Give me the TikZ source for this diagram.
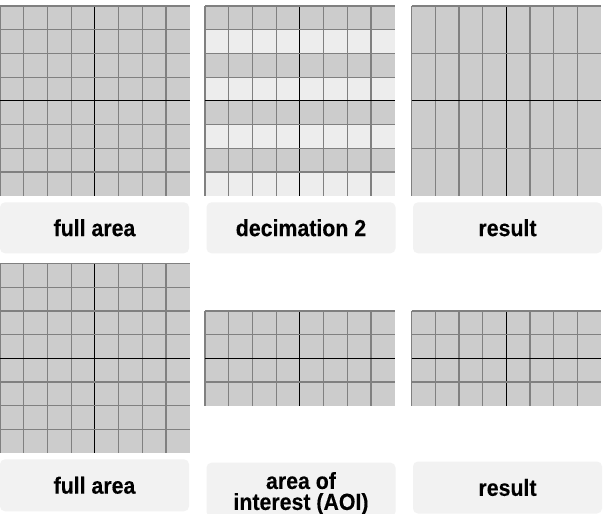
\documentclass[tikz,border=0pt]{standalone}
\usepackage{fontspec}
\newfontfamily\labfont[FakeStretch=0.915,FakeBold=0.25]{Liberation Sans Bold}
\definecolor{cellgray}{HTML}{CCCCCC}
\definecolor{celllight}{HTML}{EDEDED}
\definecolor{gridgray}{HTML}{808080}
\definecolor{boxfill}{HTML}{F2F2F2}
\tikzset{
  gridline/.style={draw=gridgray, line width=1.2pt},
  midline/.style={draw=black, line width=0.9pt},
  labelbox/.style={fill=boxfill, draw=none, rounded corners=5pt, inner sep=0pt},
  labeltext/.style={font=\labfont\fontsize{23.3}{21}\selectfont, text=black, align=center, inner sep=0pt},
}
% #1,#2 origin; #3 cols; #4 rows; #5 cell w; #6 cell h; #7 mid col; #8 mid row
\newcommand\mkgrid[8]{%
  \fill[cellgray] (#1,#2) rectangle ++(#3*#5,#4*#6);
  \foreach \i in {0,...,\numexpr#3-1\relax}{
    \ifnum\i=#7\relax
      \draw[midline] (#1+\i*#5,#2) -- ++(0,#4*#6);
    \else
      \draw[gridline] (#1+\i*#5,#2) -- ++(0,#4*#6);
    \fi
  }
  \foreach \j in {0,...,\numexpr#4-1\relax}{
    \ifnum\j=#8\relax
      \draw[midline] (#1,#2+\j*#6) -- ++(#3*#5,0);
    \else
      \draw[gridline] (#1,#2+\j*#6) -- ++(#3*#5,0);
    \fi
  }
}
\begin{document}
\begin{tikzpicture}[x=1pt,y=-1pt]
\useasboundingbox (0,0) rectangle (606,514);
\fill[white] (0,0) rectangle (606,514);
% ---- row 1 ----
\mkgrid{0}{6}{8}{8}{23.7}{23.7}{4}{4}
% decimation grid with alternating light rows
\fill[cellgray] (205,6) rectangle ++(189.6,189.6);
\foreach \j in {1,3,5,7}{
  \fill[celllight] (205,6+\j*23.7) rectangle ++(189.6,23.7);
}
\foreach \i in {0,...,7}{
  \ifnum\i=4\relax
    \draw[midline] (205+\i*23.7,6) -- ++(0,189.6);
  \else
    \draw[gridline] (205+\i*23.7,6) -- ++(0,189.6);
  \fi
}
\foreach \j in {0,...,7}{
  \ifnum\j=4\relax
    \draw[midline] (205,6+\j*23.7) -- ++(189.6,0);
  \else
    \draw[gridline] (205,6+\j*23.7) -- ++(189.6,0);
  \fi
}
\mkgrid{411.5}{6}{8}{4}{23.7}{47.4}{4}{2}
% labels row 1
\node[labelbox, minimum width=189pt, minimum height=51pt] (b1) at (94.5,227.8) {};
\node[labelbox, minimum width=189pt, minimum height=51pt] (b2) at (301,227.8) {};
\node[labelbox, minimum width=189pt, minimum height=51pt] (b3) at (507.5,227.8) {};
\node[labeltext] (t1) at (b1.center) {full area};
\node[labeltext] (t2) at (b2.center) {decimation 2};
\node[labeltext] (t3) at (b3.center) {result};
% ---- row 2 ----
\mkgrid{0}{263.5}{8}{8}{23.7}{23.7}{4}{4}
\mkgrid{205}{310.9}{8}{4}{23.7}{23.7}{4}{2}
\mkgrid{411.5}{310.9}{8}{4}{23.7}{23.7}{4}{2}
% labels row 2
\node[labelbox, minimum width=189pt, minimum height=52pt] (b4) at (94.5,485.3) {};
\node[labelbox, minimum width=189pt, minimum height=54pt] (b5) at (301,489.7) {};
\node[labelbox, minimum width=189pt, minimum height=52pt] (b6) at (507.5,487.5) {};
\node[labeltext] (t4) at (b4.center) {full area};
\node[labeltext] (t5) at (301,493.4) {area of\\interest (AOI)};
\node[labeltext] (t6) at (b6.center) {result};
\end{tikzpicture}
\end{document}
